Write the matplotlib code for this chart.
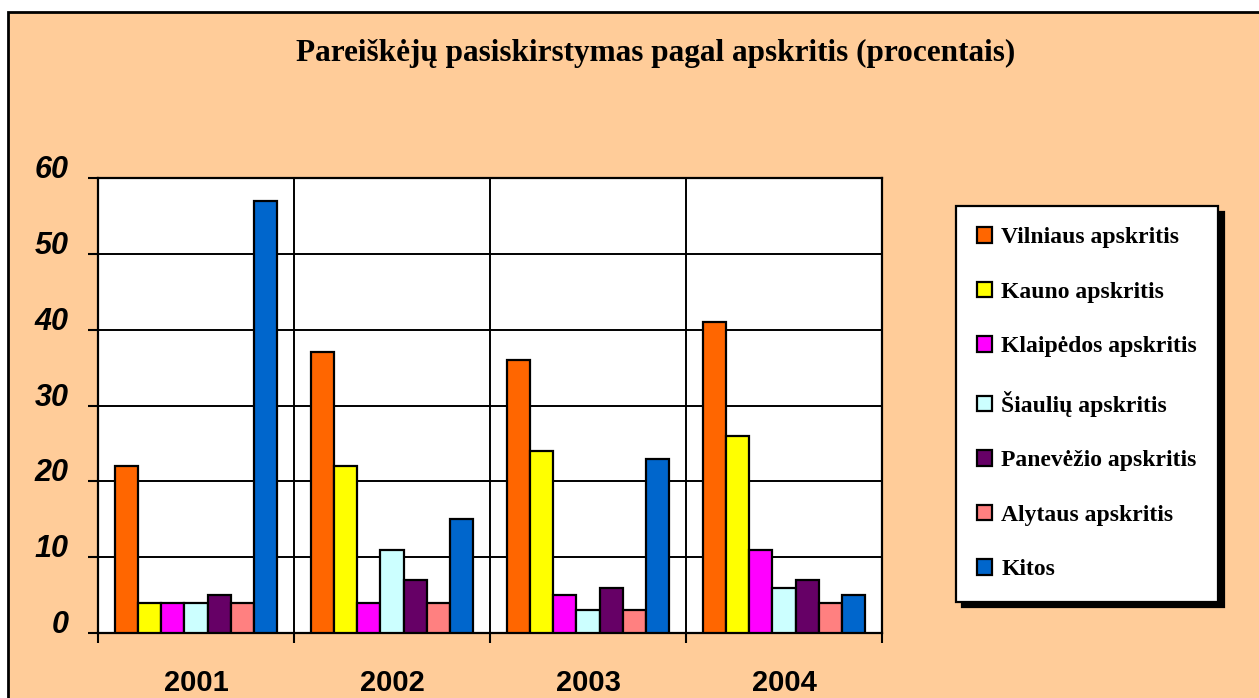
import numpy as np
import matplotlib
matplotlib.use("Agg")
import matplotlib.pyplot as plt
from matplotlib.patches import Rectangle

# data
years = ["2001", "2002", "2003", "2004"]
regions = ["Vilniaus apskritis", "Kauno apskritis", "Klaipėdos apskritis",
           "Šiaulių apskritis", "Panevėžio apskritis", "Alytaus apskritis", "Kitos"]
vilnius = [22, 37, 36, 41]
kaunas = [4, 22, 24, 26]
klaipeda = [4, 4, 5, 11]
siauliai = [4, 11, 3, 6]
panevezys = [5, 7, 6, 7]
alytus = [4, 4, 3, 4]
kitos = [57, 15, 23, 5]
series = [vilnius, kaunas, klaipeda, siauliai, panevezys, alytus, kitos]
colors = ["#FF6600", "#FFFF00", "#FF00FF", "#CCFFFF", "#660066", "#FF8080", "#0066CC"]

W, H = 1259, 698
fig = plt.figure(figsize=(W / 100, H / 100), dpi=100, facecolor="white")

# peach frame (behind the axes)
fig.patches.append(Rectangle((8 / W, -0.05), 1.1, (H - 12) / H + 0.05,
                             transform=fig.transFigure, facecolor="#FFCC99",
                             edgecolor="black", linewidth=2, zorder=-1))

ax = fig.add_axes([98 / W, 1 - 633 / H, (882 - 98) / W, (633 - 178) / H])
ax.set_facecolor("white")

n = len(series)
bw = 0.118
x = np.arange(len(years)) + 0.5
for j, (vals, c, lab) in enumerate(zip(series, colors, regions)):
    ax.bar(x + (j - (n - 1) / 2) * bw, vals, width=bw, color=c,
           edgecolor="black", linewidth=1.6, label=lab, zorder=3)

ax.set_xlim(0, 4)
ax.set_ylim(0, 60)
ax.set_yticks(range(0, 61, 10))
ax.set_xticks(range(0, 5))
ax.set_xticklabels([])
ax.set_xticks(x, minor=True)
ax.set_xticklabels(years, minor=True)
ax.grid(True, color="black", linewidth=1.4, zorder=1)
ax.set_axisbelow(True)
for s in ax.spines.values():
    s.set_color("black")
    s.set_linewidth(1.6)
ax.tick_params(axis="both", which="major", length=7, width=1.5, direction="out")
ax.tick_params(axis="x", which="minor", length=0, pad=26)
ax.tick_params(axis="y", pad=14)
for lbl in ax.get_xticklabels(minor=True):
    lbl.set_fontfamily("Liberation Sans")
    lbl.set_fontweight("bold")
    lbl.set_fontsize(21)
for lbl in ax.get_yticklabels():
    lbl.set_fontfamily("Liberation Sans")
    lbl.set_fontweight("bold")
    lbl.set_fontstyle("italic")
    lbl.set_fontsize(22)
    lbl.set_va("baseline")

fig.text(656 / W, 1 - 53 / H, "Pareiškėjų pasiskirstymas pagal apskritis (procentais)",
         ha="center", va="center", fontsize=22.5, fontweight="bold",
         family="Liberation Serif")

leg = ax.legend(loc="upper left", bbox_to_anchor=(956 / W, 1 - 206 / H),
                bbox_transform=fig.transFigure, borderaxespad=0,
                prop={"family": "Liberation Serif", "weight": "bold", "size": 17},
                frameon=True, fancybox=False, edgecolor="black", facecolor="white",
                framealpha=1, labelspacing=1.42, borderpad=0.9,
                handlelength=0.62, handleheight=0.62, handletextpad=0.4,
                shadow={"ox": 4, "oy": -4, "color": "black", "alpha": 1})
leg.get_frame().set_linewidth(1.6)

fig.savefig("out.png", dpi=100, facecolor=fig.get_facecolor())
